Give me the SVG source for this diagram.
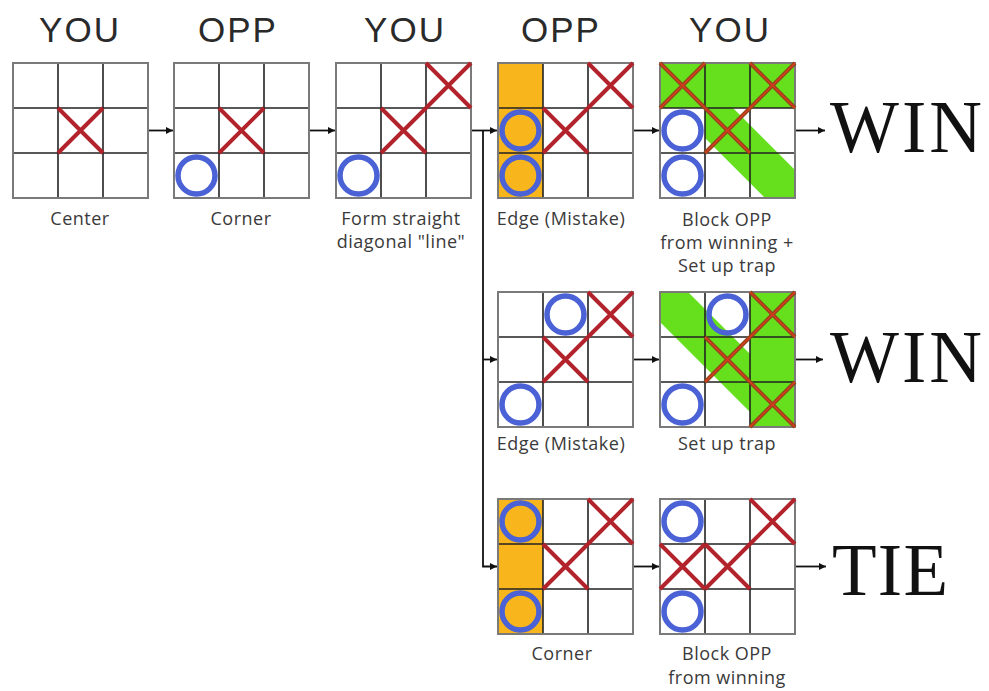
<svg xmlns="http://www.w3.org/2000/svg" xmlns:xlink="http://www.w3.org/1999/xlink" width="989" height="691" viewBox="0 0 989 691">
<style>
.hdr{font-family:"Liberation Sans",Arial,sans-serif;font-size:35px;fill:#2a2a2a;text-anchor:middle;letter-spacing:2px}
.lbl{font-family:"Open Sans","Noto Sans",sans-serif;font-size:18px;fill:#3a3a3a;text-anchor:middle;letter-spacing:0.5px}
.big{font-family:"Liberation Serif","Times New Roman",serif;font-size:73px;fill:#111}
.x{stroke:#b3232b;stroke-width:4;fill:none;stroke-linecap:butt}
.xg{stroke:#93461a;stroke-width:4;fill:none}
.xc{stroke:#e23a1e;stroke-width:1.2;fill:none}
.o{fill:none;stroke:#4a62d6;stroke-width:5.5}
.of{fill:#f8b61c;stroke:#4a62d6;stroke-width:5.5}
.org{fill:#f8b61c}
.grn{fill:#66df1c}
.conn{stroke:#111;stroke-width:1.8;fill:none}
</style>
<defs>
<marker id="ah" markerUnits="userSpaceOnUse" markerWidth="8" markerHeight="8" refX="7" refY="4" orient="auto">
<path d="M0,0.5 L7,4 L0,7.5 z" fill="#111"/>
</marker>
<g id="grid">
<path d="M45 0V135M90 0V135M0 45H135M0 90H135" stroke="#222" stroke-width="1.6" fill="none"/>
<rect x="0" y="0" width="135" height="135" fill="none" stroke="#7a7a7a" stroke-width="2"/>
</g>
<path id="xm" d="M0 0L45 45M45 0L0 45"/>
</defs>
<rect width="989" height="691" fill="#fff"/>

<text class="hdr" x="80" y="42">YOU</text>
<text class="hdr" x="238" y="42">OPP</text>
<text class="hdr" x="405" y="42">YOU</text>
<text class="hdr" x="561" y="42">OPP</text>
<text class="hdr" x="730" y="42">YOU</text>

<g id="connectors">
<path class="conn" d="M147 130.5H173" marker-end="url(#ah)"/>
<path class="conn" d="M309 130.5H335" marker-end="url(#ah)"/>
<path class="conn" d="M472 130.5H497" marker-end="url(#ah)"/>
<path class="conn" d="M483 130.5V566.5H497" marker-end="url(#ah)"/>
<path class="conn" d="M483 359.5H497" marker-end="url(#ah)"/>
<path class="conn" d="M633 130.5H659" marker-end="url(#ah)"/>
<path class="conn" d="M633 359.5H659" marker-end="url(#ah)"/>
<path class="conn" d="M633 566.5H659" marker-end="url(#ah)"/>
<path class="conn" d="M795 130.5H825" marker-end="url(#ah)"/>
<path class="conn" d="M795 359.5H823" marker-end="url(#ah)"/>
<path class="conn" d="M795 566.5H826" marker-end="url(#ah)"/>
</g>

<g id="b1-center">
<g transform="translate(13,63)">
<rect width="135" height="135" fill="#fff"/>
<use xlink:href="#grid"/>
<use xlink:href="#xm" class="x" x="45" y="45"/>
</g>
<text class="lbl" x="80" y="225">Center</text>
</g>

<g id="b2-corner">
<g transform="translate(174,63)">
<rect width="135" height="135" fill="#fff"/>
<use xlink:href="#grid"/>
<use xlink:href="#xm" class="x" x="45" y="45"/>
<circle class="o" cx="22.5" cy="112.5" r="18.5"/>
</g>
<text class="lbl" x="241" y="225">Corner</text>
</g>

<g id="b3-diagonal">
<g transform="translate(336,63)">
<rect width="135" height="135" fill="#fff"/>
<use xlink:href="#grid"/>
<use xlink:href="#xm" class="x" x="45" y="45"/>
<use xlink:href="#xm" class="x" x="90" y="0"/>
<circle class="o" cx="22.5" cy="112.5" r="18.5"/>
</g>
<text class="lbl" x="401" y="225">Form straight</text>
<text class="lbl" x="401" y="248">diagonal "line"</text>
</g>

<g id="b4-edge">
<g transform="translate(498,63)">
<rect width="135" height="135" fill="#fff"/>
<rect class="org" width="45" height="135"/>
<use xlink:href="#grid"/>
<use xlink:href="#xm" class="x" x="45" y="45"/>
<use xlink:href="#xm" class="x" x="90" y="0"/>
<circle class="of" cx="22.5" cy="67.5" r="18.5"/>
<circle class="of" cx="22.5" cy="112.5" r="18.5"/>
</g>
<text class="lbl" x="561" y="225">Edge (Mistake)</text>
</g>

<g id="b5-block">
<g transform="translate(660,63)">
<rect width="135" height="135" fill="#fff"/>
<rect class="grn" width="135" height="45"/>
<polygon class="grn" points="45,45 73,45 135,107 135,135 105,135 45,75"/>
<use xlink:href="#grid"/>
<use xlink:href="#xm" class="xg" x="0" y="0"/>
<use xlink:href="#xm" class="xc" x="0" y="0"/>
<use xlink:href="#xm" class="xg" x="90" y="0"/>
<use xlink:href="#xm" class="xc" x="90" y="0"/>
<use xlink:href="#xm" class="xg" x="45" y="45"/>
<use xlink:href="#xm" class="xc" x="45" y="45"/>
<circle class="o" cx="22.5" cy="67.5" r="18.5"/>
<circle class="o" cx="22.5" cy="112.5" r="18.5"/>
</g>
<text class="lbl" x="727" y="226">Block OPP</text>
<text class="lbl" x="727" y="249">from winning +</text>
<text class="lbl" x="727" y="272">Set up trap</text>
</g>

<g id="r2-edge">
<g transform="translate(498,292)">
<rect width="135" height="135" fill="#fff"/>
<use xlink:href="#grid"/>
<use xlink:href="#xm" class="x" x="45" y="45"/>
<use xlink:href="#xm" class="x" x="90" y="0"/>
<circle class="o" cx="67.5" cy="22.5" r="18.5"/>
<circle class="o" cx="22.5" cy="112.5" r="18.5"/>
</g>
<text class="lbl" x="561" y="450">Edge (Mistake)</text>
</g>

<g id="r2-trap">
<g transform="translate(660,292)">
<rect width="135" height="135" fill="#fff"/>
<polygon class="grn" points="0,0 28,0 135,107 135,135 105,135 0,30"/>
<rect class="grn" x="90" width="45" height="135"/>
<use xlink:href="#grid"/>
<use xlink:href="#xm" class="xg" x="90" y="0"/>
<use xlink:href="#xm" class="xc" x="90" y="0"/>
<use xlink:href="#xm" class="xg" x="45" y="45"/>
<use xlink:href="#xm" class="xc" x="45" y="45"/>
<use xlink:href="#xm" class="xg" x="90" y="90"/>
<use xlink:href="#xm" class="xc" x="90" y="90"/>
<circle class="o" cx="67.5" cy="22.5" r="18.5"/>
<circle class="o" cx="22.5" cy="112.5" r="18.5"/>
</g>
<text class="lbl" x="727" y="450">Set up trap</text>
</g>

<g id="r3-corner">
<g transform="translate(498,499)">
<rect width="135" height="135" fill="#fff"/>
<rect class="org" width="45" height="135"/>
<use xlink:href="#grid"/>
<use xlink:href="#xm" class="x" x="45" y="45"/>
<use xlink:href="#xm" class="x" x="90" y="0"/>
<circle class="of" cx="22.5" cy="22.5" r="18.5"/>
<circle class="of" cx="22.5" cy="112.5" r="18.5"/>
</g>
<text class="lbl" x="562" y="660">Corner</text>
</g>

<g id="r3-block">
<g transform="translate(660,499)">
<rect width="135" height="135" fill="#fff"/>
<use xlink:href="#grid"/>
<use xlink:href="#xm" class="x" x="0" y="45"/>
<use xlink:href="#xm" class="x" x="45" y="45"/>
<use xlink:href="#xm" class="x" x="90" y="0"/>
<circle class="o" cx="22.5" cy="22.5" r="18.5"/>
<circle class="o" cx="22.5" cy="112.5" r="18.5"/>
</g>
<text class="lbl" x="727" y="660">Block OPP</text>
<text class="lbl" x="727" y="684">from winning</text>
</g>

<g id="win1"><text class="big" x="830" y="152" textLength="152" lengthAdjust="spacing">WIN</text></g>
<g id="win2"><text class="big" x="830" y="382" textLength="152" lengthAdjust="spacing">WIN</text></g>
<g id="tie"><text class="big" x="832" y="595" textLength="116" lengthAdjust="spacing">TIE</text></g>
</svg>
